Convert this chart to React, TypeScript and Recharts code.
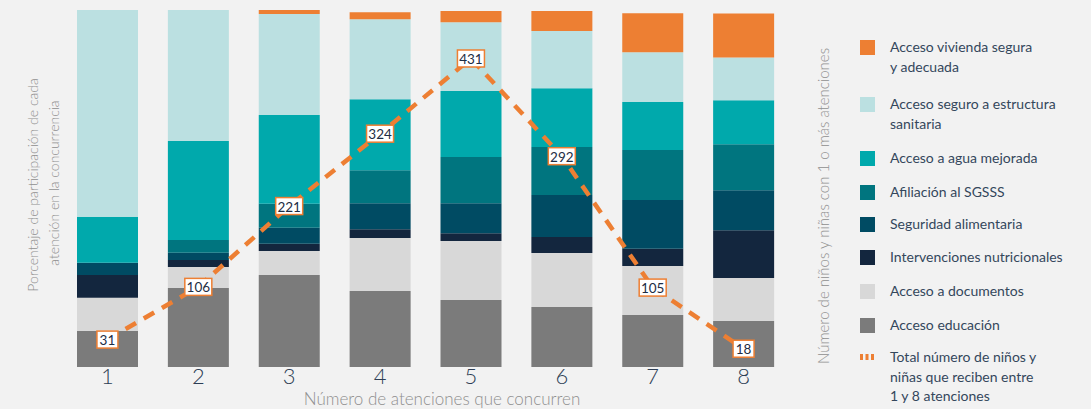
import React from 'react';
import { ComposedChart, Bar, Line, XAxis, YAxis } from 'recharts';

const categories = ['1', '2', '3', '4', '5', '6', '7', '8'];
const educacion = [10.1, 22.1, 25.8, 21.3, 18.8, 16.8, 14.6, 12.9];
const documentos = [9.3, 5.9, 6.7, 14.8, 16.5, 15.1, 13.7, 12.0];
const intervenciones = [6.4, 2.0, 2.0, 2.5, 2.2, 4.5, 4.8, 13.4];
const seguridad = [3.4, 2.0, 4.5, 7.3, 8.4, 11.8, 13.7, 11.2];
const afiliacion = [0, 3.6, 6.7, 9.2, 12.9, 13.4, 14.0, 12.9];
const agua = [12.9, 27.7, 24.9, 19.9, 18.5, 16.5, 13.4, 12.3];
const sanitaria = [57.9, 36.7, 28.3, 22.4, 19.3, 16.0, 14.0, 12.0];
const vivienda = [0, 0, 1.1, 2.0, 3.1, 5.6, 10.9, 12.3];
const totales = [31, 106, 221, 324, 431, 292, 105, 18];

const seriesNames = {
  vivienda: 'Acceso vivienda segura\ny adecuada',
  sanitaria: 'Acceso seguro a estructura\nsanitaria',
  agua: 'Acceso a agua mejorada',
  afiliacion: 'Afiliación al SGSSS',
  seguridad: 'Seguridad alimentaria',
  intervenciones: 'Intervenciones nutricionales',
  documentos: 'Acceso a documentos',
  educacion: 'Acceso educación',
  totales: 'Total número de niños y\nniñas que reciben entre\n1 y 8 atenciones',
};

const colors = {
  educacion: '#7b7b7b',
  documentos: '#d8d8d8',
  intervenciones: '#13263e',
  seguridad: '#004b63',
  afiliacion: '#00757f',
  agua: '#00a9ac',
  sanitaria: '#bbe0e1',
  vivienda: '#ed7f33',
  totales: '#ed7f33',
};

const data = categories.map((c, i) => ({
  cat: c,
  educacion: educacion[i],
  documentos: documentos[i],
  intervenciones: intervenciones[i],
  seguridad: seguridad[i],
  afiliacion: afiliacion[i],
  agua: agua[i],
  sanitaria: sanitaria[i],
  vivienda: vivienda[i],
  totales: totales[i],
}));

const stackOrder = ['educacion', 'documentos', 'intervenciones', 'seguridad', 'afiliacion', 'agua', 'sanitaria', 'vivienda'];

const legendItems = [
  { key: 'vivienda', cy: 47 },
  { key: 'sanitaria', cy: 104 },
  { key: 'agua', cy: 158 },
  { key: 'afiliacion', cy: 192 },
  { key: 'seguridad', cy: 224 },
  { key: 'intervenciones', cy: 257 },
  { key: 'documentos', cy: 291 },
  { key: 'educacion', cy: 325 },
  { key: 'totales', cy: 357 },
];

const FONT = 'Lato, "Noto Sans", sans-serif';

const renderValueLabel = (props: any) => {
  const { x, y, value } = props;
  if (x == null || y == null) return null;
  const s = String(value);
  const w = s.length >= 3 ? 27 : 21;
  return (
    <g>
      <rect x={x - w / 2} y={y - 8.5} width={w} height={17} fill="#ffffff" stroke="#ed7f33" strokeWidth={1.5} />
      <text x={x} y={y + 0.5} textAnchor="middle" dominantBaseline="central" fontSize={13.5} fontFamily={FONT} fill="#1d2d44">
        {s}
      </text>
    </g>
  );
};

export default function App() {
  const LH = 19.5;
  return (
    <div style={{ position: 'absolute', left: 0, top: 0, width: 1091, height: 409, background: '#f2f2f2', overflow: 'hidden', fontFamily: FONT }}>
      <ComposedChart
        width={1091}
        height={409}
        data={data}
        margin={{ top: 10, right: 302, bottom: 0, left: 62 }}
        barSize={61}
      >
        <XAxis
          dataKey="cat"
          axisLine={false}
          tickLine={false}
          height={42}
          interval={0}
          tick={{ fontSize: 22, fill: '#2d3e55', fontFamily: FONT, fontWeight: 300, dy: -5 }}
          tickMargin={0}
        />
        <YAxis yAxisId="left" hide domain={[0, 100]} allowDataOverflow />
        <YAxis yAxisId="right" orientation="right" hide domain={[-8, 500]} />
        {stackOrder.map((k) => (
          <Bar key={k} yAxisId="left" dataKey={k} stackId="a" fill={(colors as any)[k]} isAnimationActive={false} />
        ))}
        <Line
          yAxisId="right"
          dataKey="totales"
          type="linear"
          stroke="#ed7f33"
          strokeWidth={4.5}
          strokeDasharray="12 9"
          dot={false}
          activeDot={false}
          isAnimationActive={false}
          label={renderValueLabel}
        />
      </ComposedChart>

      <svg width={1091} height={409} style={{ position: 'absolute', left: 0, top: 0, pointerEvents: 'none' }}>
        <text x={442} y={405} textAnchor="middle" fontSize={17} fill="#8f8f8f" fontFamily={FONT} fontWeight={300}>
          Número de atenciones que concurren
        </text>
        <text transform="translate(38,185) rotate(-90)" textAnchor="middle" fontSize={14} fill="#8f8f8f" fontFamily={FONT} fontWeight={300}>
          Porcentaje de participación de cada
        </text>
        <text transform="translate(59,183) rotate(-90)" textAnchor="middle" fontSize={14} fill="#8f8f8f" fontFamily={FONT} fontWeight={300}>
          atención en la concurrencia
        </text>
        <text transform="translate(829,206) rotate(-90)" textAnchor="middle" fontSize={15} fill="#8f8f8f" fontFamily={FONT} fontWeight={300}>
          Número de niños y niñas con 1 o más atenciones
        </text>
      </svg>

      {legendItems.map((it) => {
        const lines = (seriesNames as any)[it.key].split('\n');
        return (
          <div key={it.key} style={{ position: 'absolute', left: 860, top: it.cy - LH / 2, display: 'flex', alignItems: 'flex-start' }}>
            <div style={{ width: 15, height: LH, display: 'flex', alignItems: 'center' }}>
              {it.key === 'totales' ? (
                <svg width={15} height={6}>
                  <rect x={0} y={0} width={3} height={6} fill="#ed7f33" />
                  <rect x={5.5} y={0} width={3} height={6} fill="#ed7f33" />
                  <rect x={11} y={0} width={3} height={6} fill="#ed7f33" />
                </svg>
              ) : (
                <div style={{ width: 15, height: 15, background: (colors as any)[it.key] }} />
              )}
            </div>
            <div style={{ marginLeft: 15, fontSize: 14, lineHeight: LH + 'px', color: '#34475c', whiteSpace: 'nowrap' }}>
              {lines.map((l: string, i: number) => (
                <div key={i}>{l}</div>
              ))}
            </div>
          </div>
        );
      })}
    </div>
  );
}
